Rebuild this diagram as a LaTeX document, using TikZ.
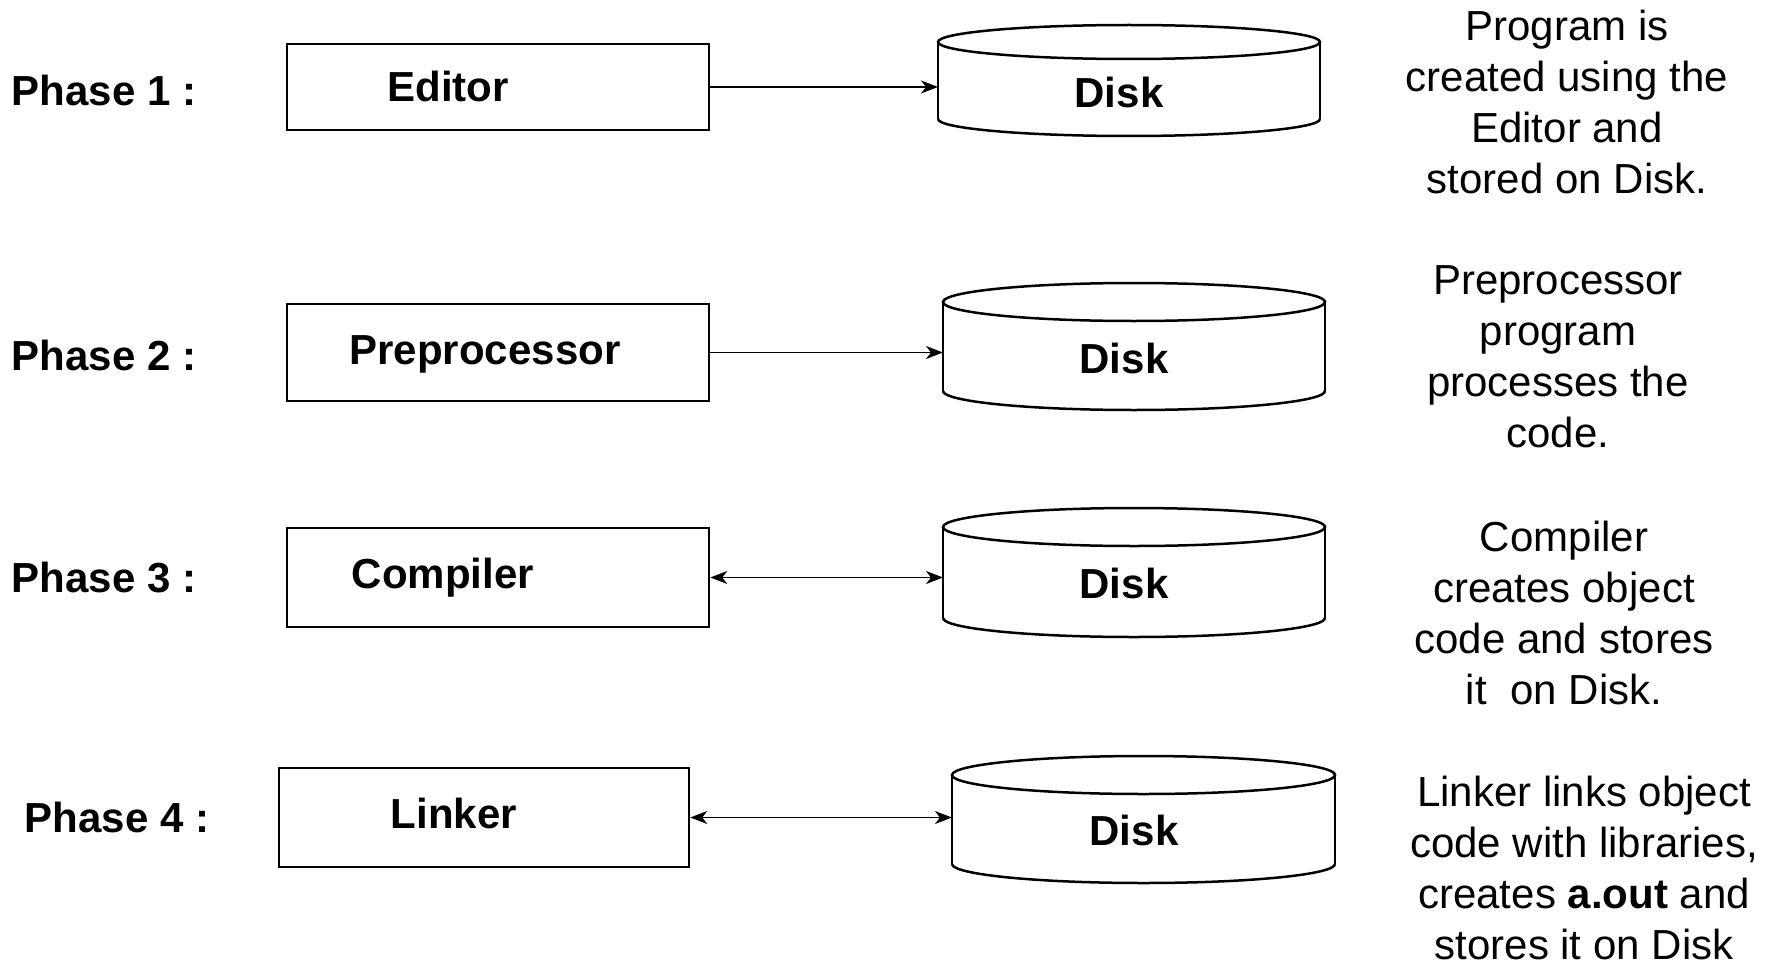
\documentclass[tikz,border=0pt]{standalone}
\usepackage{fontspec}
\setmainfont{Liberation Sans}
\usetikzlibrary{arrows.meta}
\tikzset{
  boxshape/.style={draw, line width=2.5pt, rectangle, inner sep=0pt},
  lbl/.style={font=\fontsize{42}{51}\selectfont\bfseries, anchor=base, inner sep=0pt},
  desc/.style={font=\fontsize{42}{51}\selectfont, align=center, anchor=north, inner sep=0pt},
  tip/.style={},
  conn/.style={line width=1.8pt, -{Stealth[length=17pt,width=13pt,inset=5pt]}},
  conntwo/.style={line width=1.8pt, {Stealth[length=17pt,width=13pt,inset=5pt]}-{Stealth[length=17pt,width=13pt,inset=5pt]}},
  diskline/.style={line width=2.5pt},
  diskbody/.style={rectangle, inner sep=0pt, outer sep=0pt}
}
% name, xl, xr, ytop, ybottom, ry
\newcommand\drawdisk[6]{%
  \pgfmathsetmacro\dkcx{(#2+#3)/2}%
  \pgfmathsetmacro\dkrx{(#3-#2)/2}%
  \pgfmathsetmacro\dkyc{#4+#6}%
  \pgfmathsetmacro\dkyb{#5-#6}%
  \pgfmathsetmacro\dkym{(\dkyc+\dkyb)/2}%
  \pgfmathsetmacro\dkh{\dkyb-\dkyc}%
  \pgfmathsetmacro\dkw{#3-#2}%
  \fill[white] (\dkcx,\dkyc) ellipse [x radius=\dkrx pt, y radius=#6 pt];
  \draw[diskline] (\dkcx,\dkyc) ellipse [x radius=\dkrx pt, y radius=#6 pt];
  \draw[diskline] (#2,\dkyc) -- (#2,\dkyb);
  \draw[diskline] (#3,\dkyc) -- (#3,\dkyb);
  \draw[diskline] (#2,\dkyb) arc [start angle=180, end angle=360, x radius=\dkrx pt, y radius=#6 pt];
  \node[diskbody, minimum width=\dkw pt, minimum height=\dkh pt] (#1) at (\dkcx,\dkym) {};
}
\begin{document}
\begin{tikzpicture}[x=1pt,y=-1pt]
\useasboundingbox (0,0) rectangle (1777,963);

% Phase labels
\node[lbl] (p1) at (104,106) {Phase 1 :};
\node[lbl] (p2) at (104,370) {Phase 2 :};
\node[lbl] (p3) at (104,592) {Phase 3 :};
\node[lbl] (p4) at (117,832) {Phase 4 :};

% Boxes
\node[boxshape, minimum width=422pt, minimum height=86pt] (b1) at (498,87) {};
\node[boxshape, minimum width=422pt, minimum height=97pt] (b2) at (498,352.5) {};
\node[boxshape, minimum width=422pt, minimum height=99pt] (b3) at (498,577.5) {};
\node[boxshape, minimum width=410pt, minimum height=99pt] (b4) at (484,817.5) {};

\node[lbl] (t1) at (448,102) {Editor};
\node[lbl] (t2) at (485,364) {Preprocessor};
\node[lbl] (t3) at (443,588) {Compiler};
\node[lbl] (t4) at (454,828) {Linker};

% Disks
\drawdisk{d1}{938}{1320}{25}{136}{17}
\drawdisk{d2}{943}{1325}{283}{410}{19}
\drawdisk{d3}{943}{1325}{508}{637}{19}
\drawdisk{d4}{952}{1335}{756}{883}{19}

\node[lbl] (k1) at (1119,108) {Disk};
\node[lbl] (k2) at (1124,373) {Disk};
\node[lbl] (k3) at (1124,598) {Disk};
\node[lbl] (k4) at (1134,845) {Disk};

% Connectors
\draw[conn] (b1.east) -- (b1.east -| d1.west);
\draw[conn] (b2.east) -- (b2.east -| d2.west);
\draw[conntwo] (b3.east) -- (b3.east -| d3.west);
\draw[conntwo] (b4.east) -- (b4.east -| d4.west);

% Descriptions
\node[desc] (e1) at (1567,10) {Program is\\created using the\\Editor and\\stored on Disk.};
\node[desc] (e2) at (1558,265) {Preprocessor\\program\\processes the\\code.};
\node[desc] (e3) at (1564,521) {Compiler\\creates object\\code and stores\\it~ on Disk.};
\node[desc] (e4) at (1584,776) {Linker links object\\code with libraries,\\creates \textbf{a.out} and\\stores it on Disk};
\end{tikzpicture}
\end{document}
